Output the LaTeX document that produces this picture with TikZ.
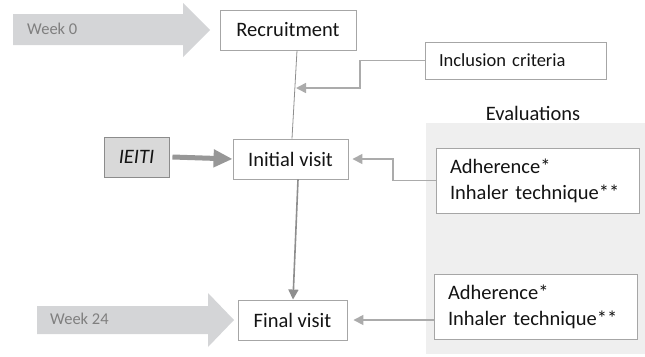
\documentclass[tikz,border=0pt]{standalone}
\usepackage{fontspec}
\setmainfont{Carlito}
\usetikzlibrary{arrows.meta,calc}
\definecolor{boxline}{HTML}{A6A6A6}
\definecolor{txt}{HTML}{141414}
\definecolor{weekfill}{HTML}{D4D5D7}
\definecolor{weektxt}{HTML}{7F7F7F}
\definecolor{evalbg}{HTML}{EFEFEF}
\definecolor{ieitifill}{HTML}{D9D9D9}
\definecolor{ieitiline}{HTML}{8C8C8C}
\definecolor{conn}{HTML}{ABABAB}
\definecolor{connd}{HTML}{8E8E8E}
\tikzset{
  wbox/.style={draw=boxline, line width=0.9pt, fill=white, text=txt, inner sep=0pt,
    font=\fontsize{20.5}{24}\selectfont},
  evbox/.style={wbox, minimum width=203pt, minimum height=65pt, align=left, text width=175pt,
    font=\fontsize{20.5}{26}\selectfont},
  connline/.style={draw=conn, line width=1.6pt},
  tip/.style={-{Triangle[length=10pt,width=10pt]}},
  weekarrow/.style={fill=weekfill, draw=none},
  weeklabel/.style={text=weektxt, font=\fontsize{16.5}{20}\selectfont, anchor=west, inner sep=0pt},
}
\begin{document}
\begin{tikzpicture}[x=1pt,y=-1pt]
\useasboundingbox (0,0) rectangle (645,356);
% evaluation background
\fill[evalbg] (426,123) rectangle (645,354);
\node[text=txt, font=\fontsize{20.5}{24}\selectfont, inner sep=0pt] (evlab) at (533,113) {Evaluations};
% week arrows
\fill[weekarrow] (13,14) -- (183,14) -- (183,3) -- (210,30) -- (183,57) -- (183,45) -- (13,45) -- cycle;
\node[weeklabel] (w0) at (27,29) {Week 0};
\fill[weekarrow] (37,306) -- (208,306) -- (208,293) -- (234,320) -- (208,347) -- (208,334) -- (37,334) -- cycle;
\node[weeklabel] (w24) at (50,319) {Week 24};
% boxes
\node[wbox, minimum width=136pt, minimum height=40pt] (rec) at (288,30) {Recruitment};
\node[wbox, minimum width=181pt, minimum height=37pt, align=left, text width=153pt, font=\fontsize{18.5}{22}\selectfont] (incl) at (515.5,60.5) {Inclusion criteria};
\node[wbox, minimum width=115pt, minimum height=40pt] (init) at (290.5,159) {Initial visit};
\node[wbox, draw=ieitiline, fill=ieitifill, minimum width=65pt, minimum height=40pt, font=\fontsize{20.5}{24}\selectfont\itshape] (ieiti) at (136.5,157) {IEITI};
\node[wbox, minimum width=109pt, minimum height=40pt] (final) at (292.5,320) {Final visit};
\node[evbox] (ev1) at (537.5,180.5) {Adherence*\\Inhaler technique**};
\node[evbox] (ev2) at (535.5,306.5) {Adherence*\\Inhaler technique**};
% connectors
\draw[draw=connd, line width=0.8pt] ($(rec.south)+(9,0)$) -- ($(init.north)+(1.5,0)$);
\coordinate (inclturn) at (360,88);
\coordinate (incltip) at (296,88);
\draw[connline, tip] (incl.west) -| (inclturn) -- (incltip);
\draw[draw=ieitiline!90, line width=5pt, -{Triangle[length=19pt,width=17pt]}] ($(ieiti.east)+(3,0)$) -- (init.west);
\coordinate (evturn) at (393,180.5);
\draw[connline, tip] (ev1.west) -- (evturn) |- ($(init.east)+(4,0)$);
\draw[draw=connd, line width=1.6pt, tip] ($(init.south)+(7.5,0)$) -- ($(final.north)+(0.5,0)$);
\draw[connline, tip] (ev2.west |- final.east) -- ($(final.east)+(6,0)$);
\end{tikzpicture}
\end{document}
